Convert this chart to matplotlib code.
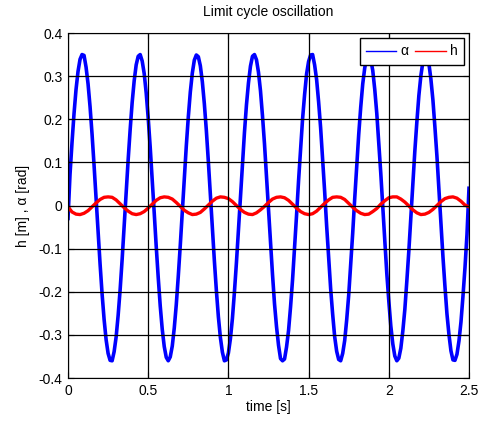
import matplotlib
matplotlib.use("Agg")
import matplotlib.pyplot as plt
from matplotlib.lines import Line2D

plt.rcParams['font.family'] = ['Liberation Sans', 'DejaVu Sans']

time_h = [i * 0.0125 for i in range(201)]
h_vals = [-0.030, 0.072, 0.146, 0.213, 0.269, 0.311, 0.339, 0.350, 0.348, 0.321,
          0.282, 0.229, 0.165, 0.093, 0.017, -0.061, -0.136, -0.205, -0.264, -0.311,
          -0.343, -0.359, -0.360, -0.339, -0.305, -0.255, -0.195, -0.125, -0.048, 0.029,
          0.106, 0.176, 0.239, 0.289, 0.326, 0.346, 0.350, 0.335, 0.306, 0.261,
          0.203, 0.135, 0.060, -0.017, -0.095, -0.167, -0.233, -0.287, -0.327, -0.352,
          -0.360, -0.351, -0.326, -0.284, -0.230, -0.164, -0.092, -0.014, 0.063, 0.138,
          0.205, 0.263, 0.307, 0.337, 0.349, 0.345, 0.324, 0.287, 0.236, 0.174,
          0.102, 0.025, -0.052, -0.128, -0.197, -0.258, -0.306, -0.340, -0.360, -0.358,
          -0.342, -0.309, -0.262, -0.201, -0.133, -0.057, 0.021, 0.098, 0.169, 0.233,
          0.284, 0.323, 0.346, 0.350, 0.338, 0.309, 0.266, 0.208, 0.143, 0.067,
          -0.009, -0.088, -0.160, -0.228, -0.281, -0.324, -0.355, -0.360, -0.356, -0.328,
          -0.290, -0.235, -0.172, -0.098, -0.022, 0.058, 0.130, 0.201, 0.257, 0.305,
          0.334, 0.349, 0.350, 0.326, 0.292, 0.240, 0.180, 0.107, 0.033, -0.047,
          -0.121, -0.193, -0.252, -0.304, -0.338, -0.357, -0.360, -0.343, -0.313, -0.265,
          -0.208, -0.137, -0.064, 0.016, 0.090, 0.165, 0.228, 0.282, 0.319, 0.344,
          0.350, 0.339, 0.313, 0.269, 0.214, 0.146, 0.075, -0.005, -0.081, -0.157,
          -0.221, -0.279, -0.321, -0.349, -0.360, -0.354, -0.331, -0.291, -0.241, -0.175,
          -0.105, -0.026, 0.050, 0.127, 0.194, 0.255, 0.301, 0.333, 0.349, 0.347,
          0.329, 0.293, 0.245, 0.182, 0.115, 0.037, -0.039, -0.118, -0.187, -0.251,
          -0.299, -0.337, -0.358, -0.359, -0.345, -0.314, -0.270, -0.210, -0.144, -0.067,
          0.040]

time_a = [i * 0.025 for i in range(101)]
alpha_vals = [-0.003, -0.015, -0.020, -0.021, -0.018, -0.012, -0.003, 0.006, 0.014, 0.019,
              0.020, 0.019, 0.013, 0.004, -0.005, -0.013, -0.019, -0.021, -0.019, -0.014,
              -0.006, 0.003, 0.012, 0.018, 0.020, 0.019, 0.015, 0.007, -0.002, -0.011,
              -0.017, -0.021, -0.020, -0.016, -0.008, 0.001, 0.010, 0.017, 0.020, 0.019,
              0.016, 0.009, 0.000, -0.009, -0.016, -0.020, -0.021, -0.017, -0.010, -0.002,
              0.007, 0.015, 0.019, 0.020, 0.018, 0.012, 0.003, -0.006, -0.014, -0.019,
              -0.021, -0.019, -0.013, -0.004, 0.005, 0.013, 0.019, 0.020, 0.019, 0.014,
              0.005, -0.004, -0.012, -0.018, -0.021, -0.020, -0.014, -0.007, 0.003, 0.011,
              0.018, 0.020, 0.020, 0.015, 0.008, -0.001, -0.010, -0.017, -0.021, -0.020,
              -0.016, -0.009, 0.000, 0.009, 0.016, 0.019, 0.020, 0.017, 0.010, 0.001,
              -0.003]

xticks = [0, 0.5, 1, 1.5, 2, 2.5]
xticklabels = ['0', '0.5', '1', '1.5', '2', '2.5']
yticks = [-0.4, -0.3, -0.2, -0.1, 0, 0.1, 0.2, 0.3, 0.4]
yticklabels = ['-0.4', '-0.3', '-0.2', '-0.1', '0', '0.1', '0.2', '0.3', '0.4']

fig = plt.figure(figsize=(4.83, 4.21), dpi=100)
ax = fig.add_axes([0.1408, 0.1021, 0.8302, 0.8195])

ax.plot(time_h, h_vals, color=(0, 0, 1), lw=2.6, solid_joinstyle='round')
ax.plot(time_a, alpha_vals, color=(1, 0, 0), lw=2.4, solid_joinstyle='round')

ax.set_xlim(0, 2.5)
ax.set_ylim(-0.4, 0.4)
ax.set_xticks(xticks)
ax.set_xticklabels(xticklabels)
ax.set_yticks(yticks)
ax.set_yticklabels(yticklabels)
ax.grid(True, color='black', linestyle='-', linewidth=0.9)
ax.set_axisbelow(False)
ax.tick_params(direction='in', top=True, right=True, labelsize=10, length=4, pad=4)
for s in ax.spines.values():
    s.set_linewidth(0.8)

ax.set_title('Limit cycle oscillation', fontsize=10, pad=12)
ax.set_xlabel('time [s]', fontsize=10, labelpad=2)
ax.set_ylabel('h [m] , α [rad]', fontsize=10, labelpad=6)

handles = [Line2D([], [], color=(0, 0, 1), lw=1), Line2D([], [], color=(1, 0, 0), lw=1)]
leg = ax.legend(handles, ['α', 'h'], loc='upper right', ncol=2, fontsize=10,
                fancybox=False, framealpha=1, edgecolor='black',
                bbox_to_anchor=(0.988, 0.985), borderaxespad=0.0,
                handlelength=2.2, handletextpad=0.3, columnspacing=0.5,
                borderpad=0.45)
leg.get_frame().set_linewidth(1.0)

fig.savefig('out.png', dpi=100)
